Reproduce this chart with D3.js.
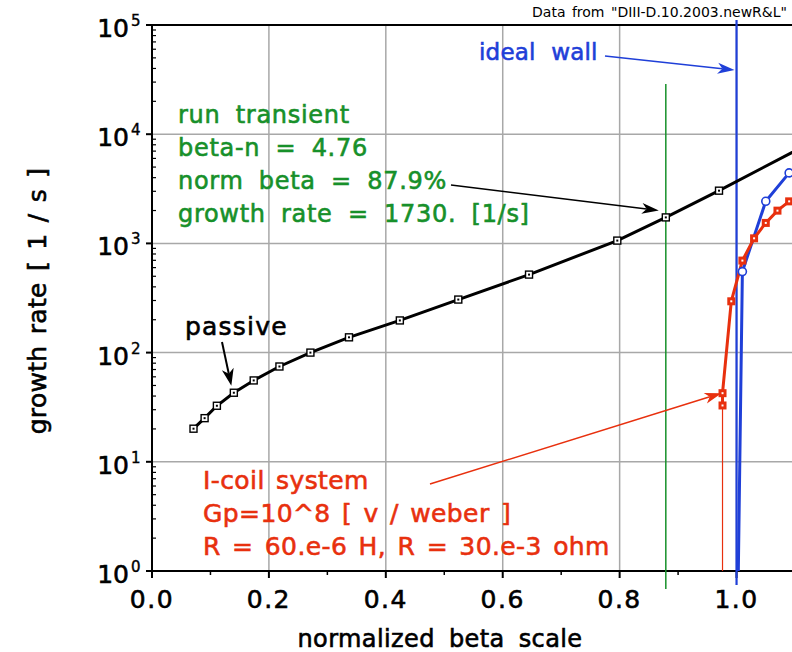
<!DOCTYPE html>
<html>
<head>
<meta charset="utf-8">
<script src="https://cdn.jsdelivr.net/npm/d3@7"></script>
<style>
  html, body { margin: 0; padding: 0; background: #fff; overflow: hidden; }
  svg { display: block; }
  text { font-family: "DejaVu Sans", Verdana, sans-serif; white-space: pre; }
  text.heavy { stroke-width: 0.6px; }
</style>
</head>
<body>
<svg id="chart" width="792" height="652"></svg>
<script>
// Passive (no feedback) growth rate vs normalized beta
const passiveBeta = [0.071, 0.090, 0.111, 0.140, 0.174, 0.218, 0.271, 0.337, 0.424, 0.524, 0.645, 0.796, 0.879, 0.970, 1.12];
const passiveRate = [20.1, 25.1, 32.6, 42.9, 55.6, 74.6, 100, 138, 197, 306, 518, 1061, 1730, 3040, 8000];

// I-coil feedback system
const icoilBeta = [0.976, 0.976, 0.991, 1.010, 1.030, 1.050, 1.070, 1.090];
const icoilRate = [32.8, 42.5, 295, 696, 1113, 1540, 1995, 2427];

// Ideal-wall branch
const wallBeta = [1.0005, 1.010, 1.050, 1.090];
const wallRate = [0.1, 552, 2430, 4420];

// Reference markers
const transientBeta = 0.879;
const transientRate = 1730;
const idealWallBeta = 1.0;
const icoilOnsetBeta = 0.976;

// Axis ticks
const xMajor = [0.0, 0.2, 0.4, 0.6, 0.8, 1.0];
const xMinor = [0.1, 0.3, 0.5, 0.7, 0.9];
const yExponents = [0, 1, 2, 3, 4, 5];

const BLACK = "#000", RED = "#e8300e", BLUE = "#1f3fd8", GREEN = "#17902a", GRID = "#a8a8a8";

const svg = d3.select("#chart");
const L = 152, R = 795, T = 25, B = 571;

const x = d3.scaleLinear().domain([0, 1.1]).range([L, R]);
const y = d3.scaleLog().domain([1, 1e5]).range([B, T]);

svg.append("defs").append("clipPath").attr("id", "plot")
  .append("rect").attr("x", L).attr("y", T).attr("width", R - L).attr("height", B - T);

// header
svg.append("text").attr("x", 787).attr("y", 17).attr("text-anchor", "end")
  .attr("font-size", 14).attr("fill", BLACK).style("word-spacing", "2px")
  .text('Data from "DIII-D.10.2003.newR&L"');

// grid
const grid = svg.append("g").attr("stroke", GRID).attr("stroke-width", 1.5);
xMajor.filter(v => v > 0).forEach(v => grid.append("line")
  .attr("x1", x(v)).attr("x2", x(v)).attr("y1", T).attr("y2", B));
yExponents.filter(e => e > 0 && e < 5).forEach(e => grid.append("line")
  .attr("x1", L).attr("x2", R).attr("y1", y(10 ** e)).attr("y2", y(10 ** e)));

// axes frame
const axes = svg.append("g").attr("stroke", BLACK).attr("stroke-width", 2);
axes.append("line").attr("x1", L).attr("x2", R).attr("y1", B).attr("y2", B);
axes.append("line").attr("x1", L).attr("x2", R).attr("y1", T).attr("y2", T);
axes.append("line").attr("x1", L).attr("x2", L).attr("y1", T).attr("y2", B);

// x ticks
xMajor.forEach(v => axes.append("line").attr("x1", x(v)).attr("x2", x(v)).attr("y1", B).attr("y2", B + 7));
xMinor.forEach(v => axes.append("line").attr("x1", x(v)).attr("x2", x(v)).attr("y1", B).attr("y2", B + 4).attr("stroke-width", 1.5));
svg.append("g").selectAll("text").data(xMajor).join("text")
  .attr("class", "heavy").attr("stroke", BLACK)
  .attr("x", d => x(d)).attr("y", 608).attr("text-anchor", "middle")
  .attr("font-size", 25).style("letter-spacing", "1.5px")
  .text(d => d.toFixed(1));

// y ticks (log)
yExponents.forEach(e => axes.append("line").attr("x1", L - 6).attr("x2", L).attr("y1", y(10 ** e)).attr("y2", y(10 ** e)));
yExponents.slice(0, -1).forEach(e => {
  for (let m = 2; m <= 9; m++) {
    const v = m * 10 ** e;
    axes.append("line").attr("x1", L).attr("x2", L + 4).attr("y1", y(v)).attr("y2", y(v)).attr("stroke-width", 1.2);
  }
});
const yl = svg.append("g").attr("class", "heavy").attr("stroke", BLACK);
yExponents.forEach(e => {
  yl.append("text").attr("class", "heavy").attr("x", 129).attr("y", y(10 ** e) + 12).attr("text-anchor", "end").attr("font-size", 25).text("10");
  yl.append("text").attr("x", 131).attr("y", y(10 ** e) + 1).attr("font-size", 15).attr("stroke-width", 0.4).text(String(e));
});

// axis titles
svg.append("text").attr("class", "heavy").attr("stroke", BLACK).attr("x", 440).attr("y", 647).attr("text-anchor", "middle")
  .attr("font-size", 24).style("word-spacing", "6px").style("letter-spacing", "0.4px").text("normalized beta scale");
svg.append("text").attr("class", "heavy").attr("stroke", BLACK).attr("transform", "translate(46,301) rotate(-90)").attr("text-anchor", "middle")
  .attr("font-size", 25).style("word-spacing", "3px").style("letter-spacing", "0.3px").text("growth rate [ 1 / s ]");

// reference vertical lines
svg.append("line").attr("x1", x(transientBeta)).attr("x2", x(transientBeta)).attr("y1", 84).attr("y2", B + 18)
  .attr("stroke", GREEN).attr("stroke-width", 1.5);
svg.append("line").attr("x1", x(icoilOnsetBeta)).attr("x2", x(icoilOnsetBeta)).attr("y1", y(icoilRate[0])).attr("y2", B)
  .attr("stroke", RED).attr("stroke-width", 1.2);
svg.append("line").attr("x1", x(idealWallBeta)).attr("x2", x(idealWallBeta)).attr("y1", 20).attr("y2", B + 14)
  .attr("stroke", BLUE).attr("stroke-width", 2.2);

// curves
const plot = svg.append("g").attr("clip-path", "url(#plot)");
const line = d3.line().x(d => x(d[0])).y(d => y(d[1]));
const passive = d3.zip(passiveBeta, passiveRate);
const icoil = d3.zip(icoilBeta, icoilRate);
const wall = d3.zip(wallBeta, wallRate);

plot.append("path").datum(wall).attr("d", line).attr("fill", "none").attr("stroke", BLUE).attr("stroke-width", 3);
plot.append("path").datum(icoil).attr("d", line).attr("fill", "none").attr("stroke", RED).attr("stroke-width", 3);
plot.append("path").datum(passive).attr("d", line).attr("fill", "none").attr("stroke", BLACK).attr("stroke-width", 3);

// markers
plot.selectAll(".pm").data(passive).join("rect").attr("class", "pm")
  .attr("x", d => x(d[0]) - 3.5).attr("y", d => y(d[1]) - 3.5).attr("width", 7).attr("height", 7)
  .attr("fill", "#fff").attr("stroke", BLACK).attr("stroke-width", 1.4);
plot.selectAll(".pd").data(passive).join("rect").attr("class", "pd")
  .attr("x", d => x(d[0]) - 1).attr("y", d => y(d[1]) - 1).attr("width", 2).attr("height", 2).attr("fill", BLACK);

plot.selectAll(".wm").data(wall).join("circle").attr("class", "wm")
  .attr("cx", d => x(d[0])).attr("cy", d => y(d[1])).attr("r", 4)
  .attr("fill", "#fff").attr("stroke", BLUE).attr("stroke-width", 1.6);

plot.selectAll(".im").data(icoil).join("rect").attr("class", "im")
  .attr("x", d => x(d[0]) - 4).attr("y", d => y(d[1]) - 4).attr("width", 8).attr("height", 8)
  .attr("fill", RED);
plot.selectAll(".id").data(icoil).join("rect").attr("class", "id")
  .attr("x", d => x(d[0]) - 1).attr("y", d => y(d[1]) - 1).attr("width", 2).attr("height", 2).attr("fill", "#fff");

// arrows with notched heads
function arrow(x1, y1, x2, y2, color, w, len, half) {
  const a = Math.atan2(y2 - y1, x2 - x1);
  const ca = Math.cos(a), sa = Math.sin(a);
  const bx = x2 - len * ca, by = y2 - len * sa;
  const nx = x2 - len * 0.72 * ca, ny = y2 - len * 0.72 * sa;
  svg.append("line").attr("x1", x1).attr("y1", y1).attr("x2", nx).attr("y2", ny)
    .attr("stroke", color).attr("stroke-width", w);
  const p = [[x2, y2], [bx - half * sa, by + half * ca], [nx, ny], [bx + half * sa, by - half * ca]];
  svg.append("path").attr("d", "M" + p.map(q => q.join(",")).join("L") + "Z").attr("fill", color);
}

arrow(222, 342, x(passiveBeta[3]) - 2.5, y(passiveRate[3]) - 7, BLACK, 2, 17, 6);
arrow(451, 185, x(transientBeta) - 7, y(transientRate) - 7, BLACK, 1.5, 17, 5.5);
arrow(605, 56, x(idealWallBeta) - 2, 70, BLUE, 1.5, 17, 5.5);
arrow(430, 484, x(icoilBeta[1]) - 1, y(icoilRate[1]), RED, 1.5, 17, 5.5);

// annotations
function block(lines, x0, y0, dy, size, color, ws, ls) {
  lines.forEach((t, i) => svg.append("text").attr("class", "heavy").attr("x", x0).attr("y", y0 + i * dy)
    .attr("font-size", size).attr("fill", color).attr("stroke", color)
    .style("word-spacing", ws).style("letter-spacing", ls).text(t));
}
block(["run transient", "beta-n = 4.76", "norm beta = 87.9%", "growth rate = 1730. [1/s]"], 178, 123, 33, 24, GREEN, "7px", "0.7px");
block(["I-coil system", "Gp=10^8 [ v / weber ]", "R = 60.e-6 H, R = 30.e-3 ohm"], 203, 489, 33, 25, RED, "3px", "0.4px");
block(["ideal wall"], 479, 60, 0, 23, BLUE, "8px", "0.2px");
block(["passive"], 185, 335, 0, 25, BLACK, "0px", "1.2px");
</script>
</body>
</html>
